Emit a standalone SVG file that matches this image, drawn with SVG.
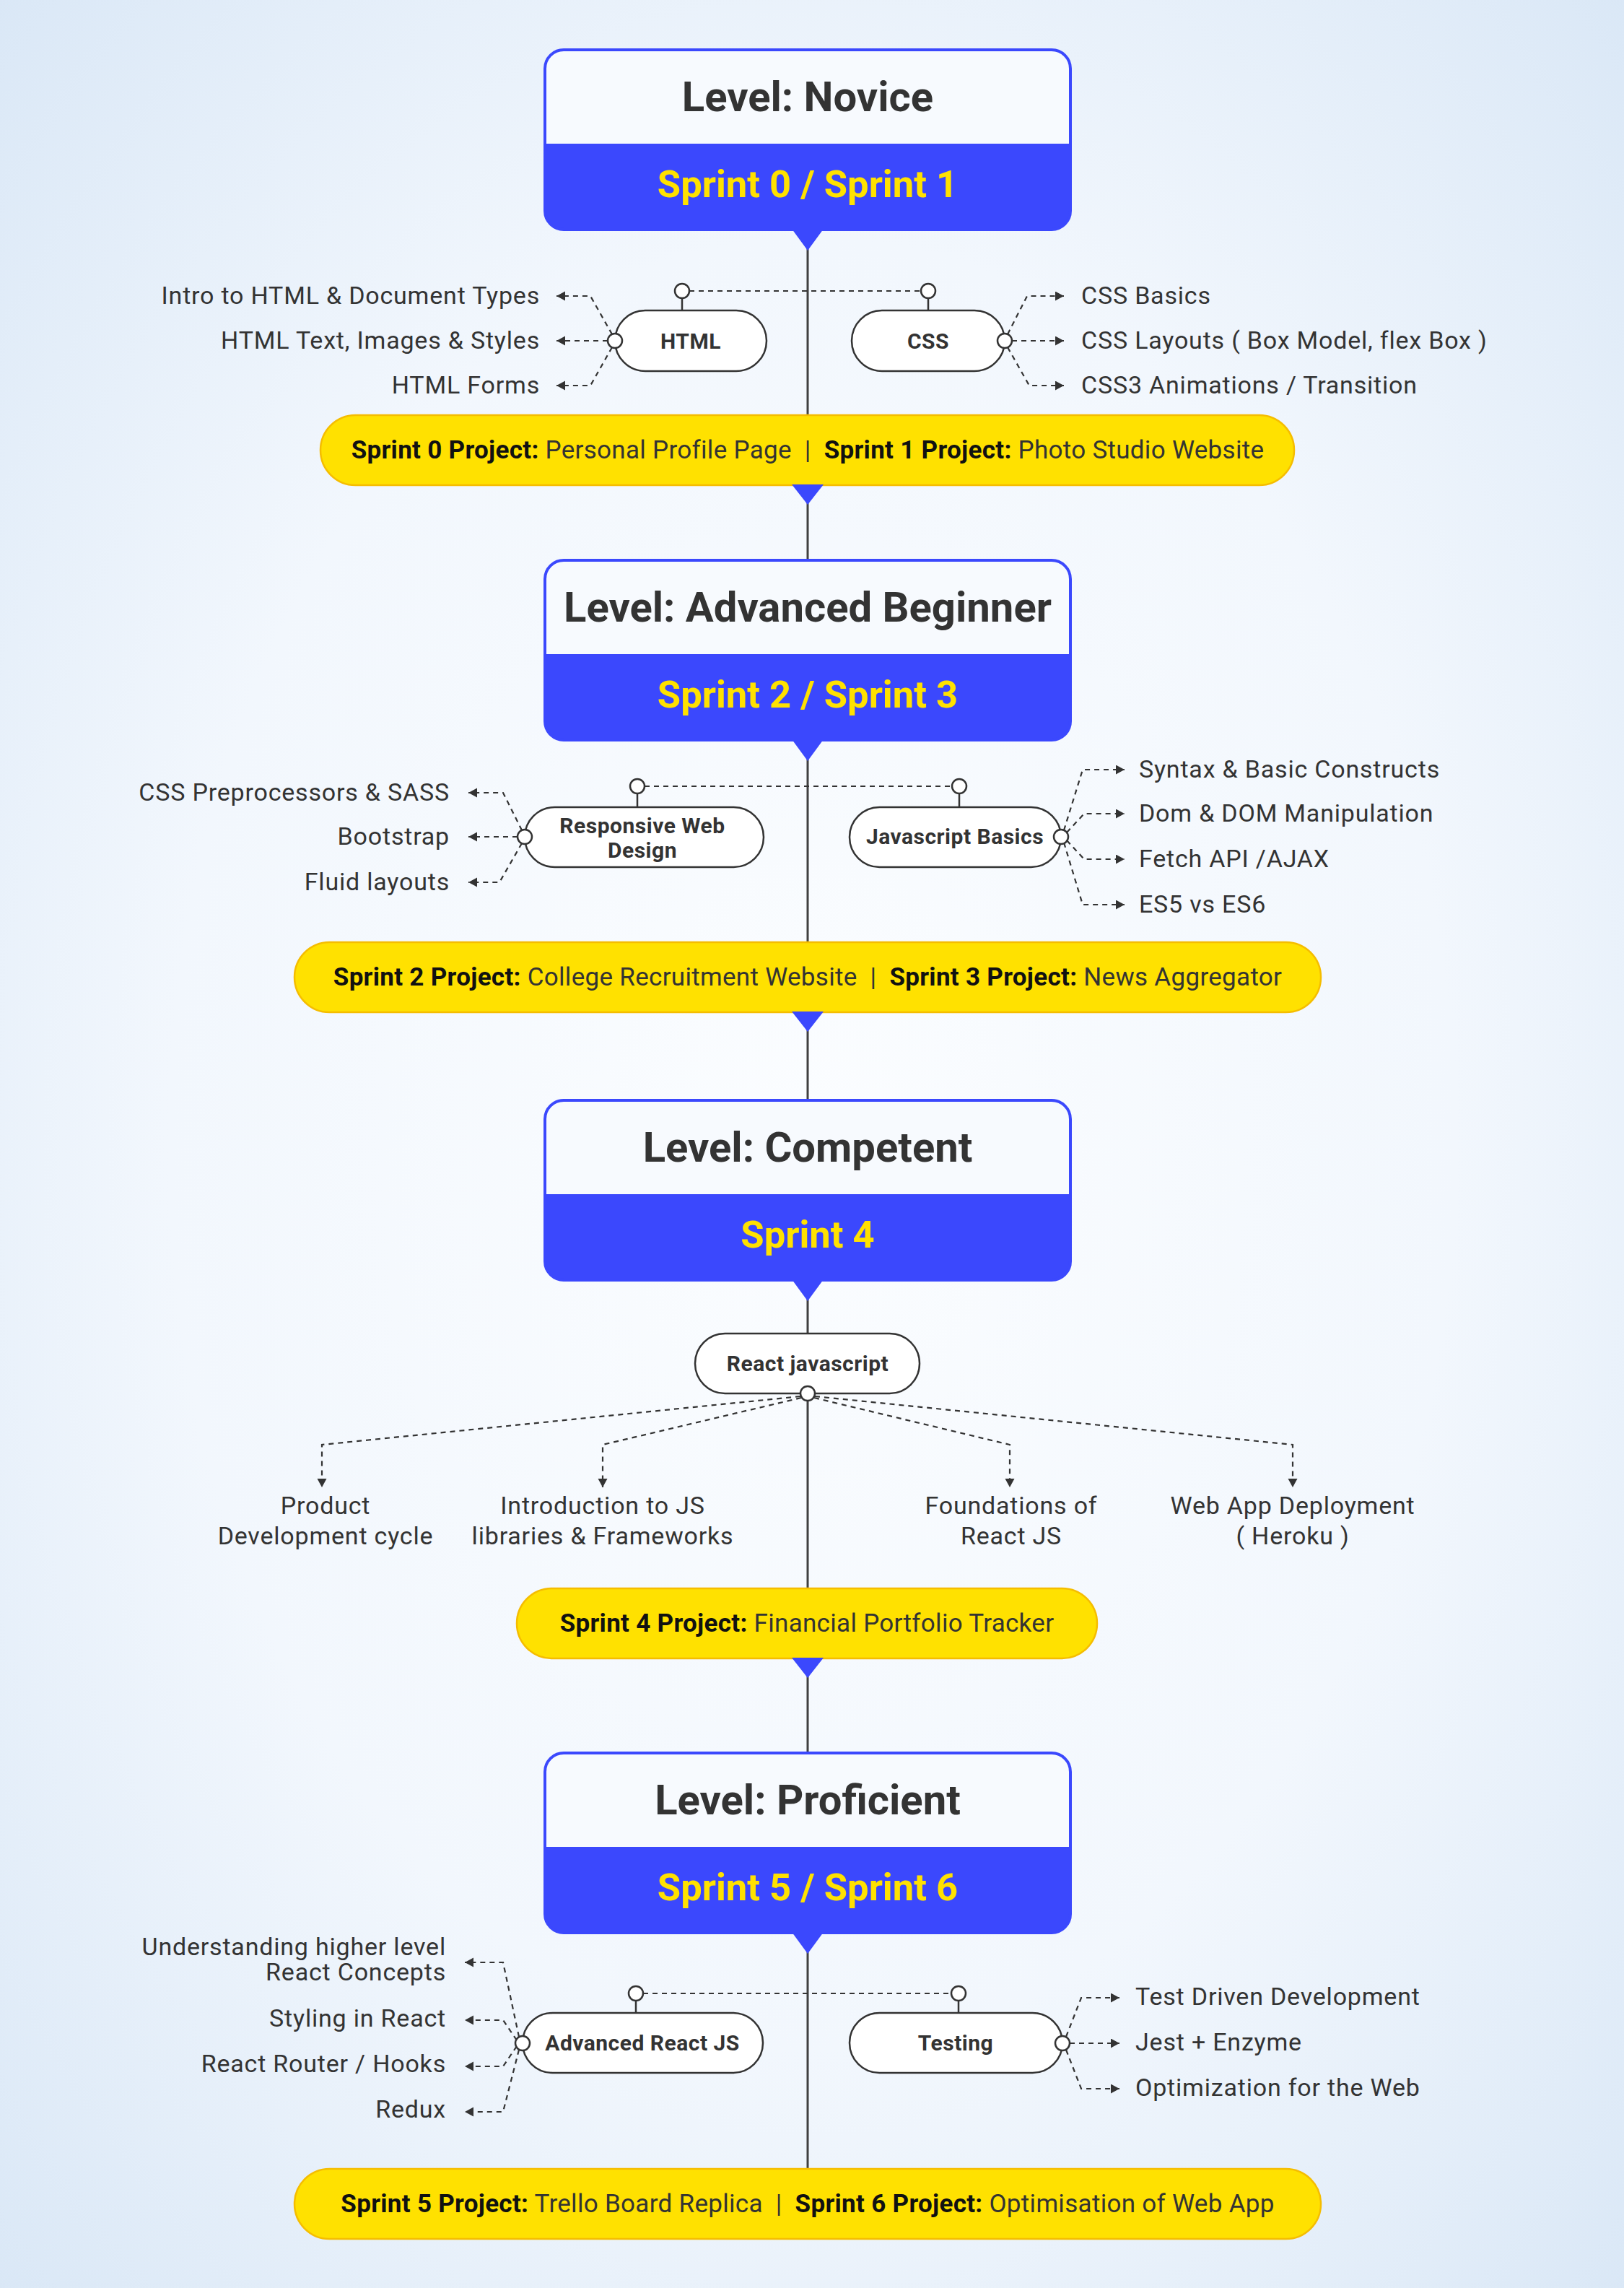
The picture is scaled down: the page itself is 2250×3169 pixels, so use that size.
<svg xmlns="http://www.w3.org/2000/svg" width="2250" height="3169" viewBox="0 0 2250 3169">
<defs>
<radialGradient id="bg" cx="50%" cy="50%" r="72%">
<stop offset="0" stop-color="#fbfdff"/>
<stop offset="0.55" stop-color="#f2f7fd"/>
<stop offset="1" stop-color="#d9e7f6"/>
</radialGradient>
<marker id="arr" markerUnits="userSpaceOnUse" markerWidth="14" markerHeight="14" refX="12" refY="6.5" orient="auto">
<path d="M0,0 L12,6.5 L0,13 Z" fill="#333"/>
</marker>
<g id="levelBox">
<path d="M781,0 H1457 A26,26 0 0 1 1483,26 V223 A26,26 0 0 1 1457,249 H781 A26,26 0 0 1 755,223 V26 A26,26 0 0 1 781,0 Z" fill="#f7fafe"/>
<path d="M755,130 H1483 V223 A26,26 0 0 1 1457,249 H781 A26,26 0 0 1 755,223 Z" fill="#3b48fd"/>
<path d="M781,0 H1457 A26,26 0 0 1 1483,26 V223 A26,26 0 0 1 1457,249 H781 A26,26 0 0 1 755,223 V26 A26,26 0 0 1 781,0 Z" fill="none" stroke="#3b48fd" stroke-width="4"/>
<path d="M1097,248 L1141,248 L1119,278 Z" fill="#3b48fd"/>
</g>
</defs>
<style>
text{font-family:Roboto,"Liberation Sans",sans-serif;fill:#333}
.title{font-size:58px;font-weight:700;text-anchor:middle;fill:#333}
.sprint{font-size:52.5px;font-weight:700;text-anchor:middle;fill:#ffe100}
.item{font-size:34px;font-weight:400;letter-spacing:0.8px}
.end{text-anchor:end}
.mid{text-anchor:middle}
.node{fill:#fff;stroke:#333;stroke-width:2.5}
.nodetext{font-size:30px;font-weight:700;text-anchor:middle;letter-spacing:0.5px}
.dot{fill:#fff;stroke:#333;stroke-width:2.5}
.dash{fill:none;stroke:#333;stroke-width:2.2;stroke-dasharray:7 6}
.solid{fill:none;stroke:#333;stroke-width:2.5}
.proj{fill:#ffe100;stroke:#f5bd00;stroke-width:2.5}
.ptext{font-size:35px;font-weight:400;text-anchor:middle;fill:#333;letter-spacing:0.3px}
.b{font-weight:700;fill:#111}
.ptri{fill:#3b48fd}
</style>
<rect x="0" y="0" width="2250" height="3169" fill="url(#bg)"/>

<g id="connectors">
<line x1="1119" y1="318" x2="1119" y2="3004" stroke="#404040" stroke-width="3"/>
<!-- Level 1 -->
<line class="dash" x1="955" y1="403" x2="1276" y2="403"/>
<line class="solid" x1="945" y1="413" x2="945" y2="430"/>
<line class="solid" x1="1286" y1="413" x2="1286" y2="430"/>
<path class="dash" d="M848,463 L818,410 L771,410" marker-end="url(#arr)"/>
<path class="dash" d="M842,472 L771,472" marker-end="url(#arr)"/>
<path class="dash" d="M848,481 L818,534 L771,534" marker-end="url(#arr)"/>
<path class="dash" d="M1396,463 L1423,410 L1474,410" marker-end="url(#arr)"/>
<path class="dash" d="M1402,472 L1474,472" marker-end="url(#arr)"/>
<path class="dash" d="M1396,481 L1426,534 L1474,534" marker-end="url(#arr)"/>
<!-- Level 2 -->
<line class="dash" x1="893" y1="1089" x2="1319" y2="1089"/>
<line class="solid" x1="883" y1="1099" x2="883" y2="1118"/>
<line class="solid" x1="1329" y1="1099" x2="1329" y2="1118"/>
<path class="dash" d="M723,1150 L697,1098 L649,1098" marker-end="url(#arr)"/>
<path class="dash" d="M717,1159 L649,1159" marker-end="url(#arr)"/>
<path class="dash" d="M723,1168 L692,1222 L649,1222" marker-end="url(#arr)"/>
<path class="dash" d="M1474,1150 L1500,1066 L1558,1066" marker-end="url(#arr)"/>
<path class="dash" d="M1478,1153 L1502,1127 L1558,1127" marker-end="url(#arr)"/>
<path class="dash" d="M1478,1164 L1502,1190 L1558,1190" marker-end="url(#arr)"/>
<path class="dash" d="M1474,1167 L1500,1253 L1558,1253" marker-end="url(#arr)"/>
<!-- Level 3 -->
<path class="dash" d="M1109,1934 L446,2001 L446,2060" marker-end="url(#arr)"/>
<path class="dash" d="M1110,1936 L835,2001 L835,2060" marker-end="url(#arr)"/>
<path class="dash" d="M1128,1936 L1399,2001 L1399,2060" marker-end="url(#arr)"/>
<path class="dash" d="M1129,1934 L1791,2001 L1791,2060" marker-end="url(#arr)"/>
<!-- Level 4 -->
<line class="dash" x1="891" y1="2761" x2="1318" y2="2761"/>
<line class="solid" x1="881" y1="2771" x2="881" y2="2788"/>
<line class="solid" x1="1328" y1="2771" x2="1328" y2="2788"/>
<path class="dash" d="M719,2821 L697,2718 L644,2718" marker-end="url(#arr)"/>
<path class="dash" d="M716,2826 L697,2798 L644,2798" marker-end="url(#arr)"/>
<path class="dash" d="M716,2834 L697,2862 L644,2862" marker-end="url(#arr)"/>
<path class="dash" d="M719,2839 L697,2925 L644,2925" marker-end="url(#arr)"/>
<path class="dash" d="M1477,2821 L1498,2767 L1551,2767" marker-end="url(#arr)"/>
<path class="dash" d="M1482,2830 L1551,2830" marker-end="url(#arr)"/>
<path class="dash" d="M1477,2839 L1498,2893 L1551,2893" marker-end="url(#arr)"/>
</g>

<!-- Level 1 -->
<g id="level-novice" transform="translate(0,69)">
<use href="#levelBox"/>
<text class="title" x="1119" y="85">Level: Novice</text>
<text class="sprint" x="1119" y="204">Sprint 0 / Sprint 1</text>
</g>
<g id="node-html">
<rect class="node" x="852" y="430" width="210" height="84" rx="42"/>
<text class="nodetext" x="957" y="483">HTML</text>
<circle class="dot" cx="945" cy="403" r="10"/>
<circle class="dot" cx="852" cy="472" r="10"/>
</g>
<g id="node-css">
<rect class="node" x="1180" y="430" width="212" height="84" rx="42"/>
<text class="nodetext" x="1286" y="483">CSS</text>
<circle class="dot" cx="1286" cy="403" r="10"/>
<circle class="dot" cx="1392" cy="472" r="10"/>
</g>
<g id="items-html">
<text class="item end" x="748" y="421">Intro to HTML &amp; Document Types</text>
<text class="item end" x="748" y="483">HTML Text, Images &amp; Styles</text>
<text class="item end" x="748" y="545">HTML Forms</text>
</g>
<g id="items-css">
<text class="item" x="1498" y="421">CSS Basics</text>
<text class="item" x="1498" y="483">CSS Layouts ( Box Model, flex Box )</text>
<text class="item" x="1498" y="545">CSS3 Animations / Transition</text>
</g>
<g id="project-1">
<rect class="proj" x="444" y="575" width="1349" height="97" rx="48.5"/>
<text class="ptext" x="1119" y="635"><tspan class="b">Sprint 0 Project:</tspan> Personal Profile Page &#160;|&#160; <tspan class="b">Sprint 1 Project:</tspan> Photo Studio Website</text>
<path class="ptri" d="M1097,671 L1141,671 L1119,699 Z"/>
</g>

<!-- Level 2 -->
<g id="level-advanced-beginner" transform="translate(0,776)">
<use href="#levelBox"/>
<text class="title" x="1119" y="85">Level: Advanced Beginner</text>
<text class="sprint" x="1119" y="204">Sprint 2 / Sprint 3</text>
</g>
<g id="node-rwd">
<rect class="node" x="727" y="1118" width="331" height="83" rx="41.5"/>
<text class="nodetext" x="890" y="1154">Responsive Web</text>
<text class="nodetext" x="890" y="1188">Design</text>
<circle class="dot" cx="883" cy="1089" r="10"/>
<circle class="dot" cx="727" cy="1159" r="10"/>
</g>
<g id="node-js">
<rect class="node" x="1177" y="1118" width="293" height="83" rx="41.5"/>
<text class="nodetext" x="1323" y="1169">Javascript Basics</text>
<circle class="dot" cx="1329" cy="1089" r="10"/>
<circle class="dot" cx="1470" cy="1159" r="10"/>
</g>
<g id="items-rwd">
<text class="item end" x="623" y="1109">CSS Preprocessors &amp; SASS</text>
<text class="item end" x="623" y="1170">Bootstrap</text>
<text class="item end" x="623" y="1233">Fluid layouts</text>
</g>
<g id="items-js">
<text class="item" x="1578" y="1077">Syntax &amp; Basic Constructs</text>
<text class="item" x="1578" y="1138">Dom &amp; DOM Manipulation</text>
<text class="item" x="1578" y="1201">Fetch API /AJAX</text>
<text class="item" x="1578" y="1264">ES5 vs ES6</text>
</g>
<g id="project-2">
<rect class="proj" x="408" y="1305" width="1422" height="97" rx="48.5"/>
<text class="ptext" x="1119" y="1365"><tspan class="b">Sprint 2 Project:</tspan> College Recruitment Website &#160;|&#160; <tspan class="b">Sprint 3 Project:</tspan> News Aggregator</text>
<path class="ptri" d="M1097,1401 L1141,1401 L1119,1429 Z"/>
</g>

<!-- Level 3 -->
<g id="level-competent" transform="translate(0,1524)">
<use href="#levelBox"/>
<text class="title" x="1119" y="85">Level: Competent</text>
<text class="sprint" x="1119" y="204">Sprint 4</text>
</g>
<g id="node-react">
<rect class="node" x="963" y="1847" width="311" height="83" rx="41.5"/>
<text class="nodetext" x="1119" y="1899">React javascript</text>
<circle class="dot" cx="1119" cy="1930" r="10"/>
</g>
<g id="items-react">
<text class="item mid" x="451" y="2097">Product</text>
<text class="item mid" x="451" y="2139">Development cycle</text>
<text class="item mid" x="835" y="2097">Introduction to JS</text>
<text class="item mid" x="835" y="2139">libraries &amp; Frameworks</text>
<text class="item mid" x="1401" y="2097">Foundations of</text>
<text class="item mid" x="1401" y="2139">React JS</text>
<text class="item mid" x="1791" y="2097">Web App Deployment</text>
<text class="item mid" x="1791" y="2139">( Heroku )</text>
</g>
<g id="project-3">
<rect class="proj" x="716" y="2200" width="804" height="97" rx="48.5"/>
<text class="ptext" x="1118" y="2260"><tspan class="b">Sprint 4 Project:</tspan> Financial Portfolio Tracker</text>
<path class="ptri" d="M1097,2296 L1141,2296 L1119,2324 Z"/>
</g>

<!-- Level 4 -->
<g id="level-proficient" transform="translate(0,2428)">
<use href="#levelBox"/>
<text class="title" x="1119" y="85">Level: Proficient</text>
<text class="sprint" x="1119" y="204">Sprint 5 / Sprint 6</text>
</g>
<g id="node-advreact">
<rect class="node" x="724" y="2788" width="333" height="83" rx="41.5"/>
<text class="nodetext" x="890" y="2840">Advanced React JS</text>
<circle class="dot" cx="881" cy="2761" r="10"/>
<circle class="dot" cx="724" cy="2830" r="10"/>
</g>
<g id="node-testing">
<rect class="node" x="1177" y="2788" width="295" height="83" rx="41.5"/>
<text class="nodetext" x="1324" y="2840">Testing</text>
<circle class="dot" cx="1328" cy="2761" r="10"/>
<circle class="dot" cx="1472" cy="2830" r="10"/>
</g>
<g id="items-advreact">
<text class="item end" x="618" y="2708">Understanding higher level</text>
<text class="item end" x="618" y="2743">React Concepts</text>
<text class="item end" x="618" y="2807">Styling in React</text>
<text class="item end" x="618" y="2870">React Router / Hooks</text>
<text class="item end" x="618" y="2933">Redux</text>
</g>
<g id="items-testing">
<text class="item" x="1573" y="2777">Test Driven Development</text>
<text class="item" x="1573" y="2840">Jest + Enzyme</text>
<text class="item" x="1573" y="2903">Optimization for the Web</text>
</g>
<g id="project-4">
<rect class="proj" x="408" y="3004" width="1422" height="97" rx="48.5"/>
<text class="ptext" x="1119" y="3064"><tspan class="b">Sprint 5 Project:</tspan> Trello Board Replica &#160;|&#160; <tspan class="b">Sprint 6 Project:</tspan> Optimisation of Web App</text>
</g>
</svg>
